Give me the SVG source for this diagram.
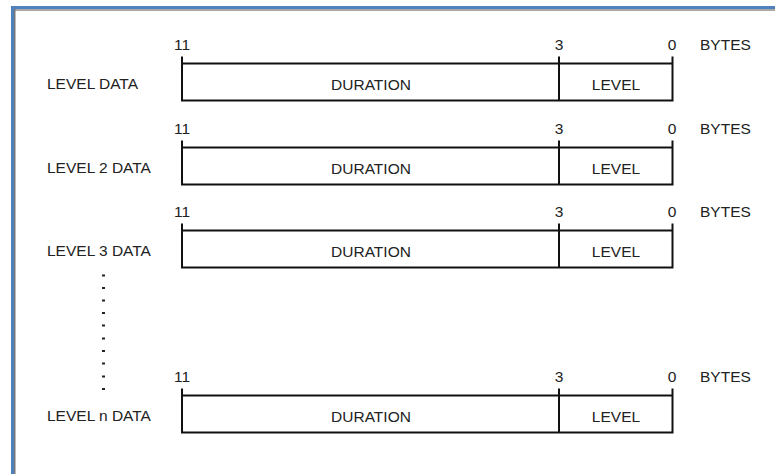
<svg xmlns="http://www.w3.org/2000/svg" width="775" height="474" viewBox="0 0 775 474">
<style>
text{font-family:"Liberation Sans",Arial,sans-serif;font-size:15.5px;fill:#222}
.m{text-anchor:middle}
.b{fill:none;stroke:#111;stroke-width:2}
.d{fill:#222}
</style>
<defs>
<g id="row">
<path class="b" d="M182,-7V37H672.5V-7M182,0H672.5M559,-7V37"/>
<text class="m" x="182" y="-14">11</text>
<text class="m" x="559" y="-14">3</text>
<text class="m" x="672" y="-14">0</text>
<text x="700" y="-14">BYTES</text>
<text class="m" x="371" y="26">DURATION</text>
<text class="m" x="616" y="26">LEVEL</text>
</g>
</defs>
<rect width="775" height="474" fill="#fff"/>
<g id="frame">
<rect x="14" y="9" width="761" height="2" fill="#a8a8a8"/>
<rect x="14" y="9" width="1.5" height="465" fill="#777"/>
<rect x="11" y="6" width="764" height="3" fill="#4f81bd"/>
<rect x="11" y="6" width="3" height="468" fill="#4f81bd"/>
</g>
<g id="connectors"></g>
<g id="row1">
<use href="#row" transform="translate(0,63.5)"/>
<text x="47" y="89">LEVEL DATA</text>
</g>
<g id="row2">
<use href="#row" transform="translate(0,147.5)"/>
<text x="47" y="173">LEVEL 2 DATA</text>
</g>
<g id="row3">
<use href="#row" transform="translate(0,230.5)"/>
<text x="47" y="256">LEVEL 3 DATA</text>
</g>
<g id="dots">
<rect class="d" x="102" y="274.5" width="3" height="2"/>
<rect class="d" x="102" y="287" width="3" height="2"/>
<rect class="d" x="102" y="299.5" width="3" height="2"/>
<rect class="d" x="102" y="312" width="3" height="2"/>
<rect class="d" x="102" y="324.5" width="3" height="2"/>
<rect class="d" x="102" y="337.5" width="3" height="2"/>
<rect class="d" x="102" y="350" width="3" height="2"/>
<rect class="d" x="102" y="362.5" width="3" height="2"/>
<rect class="d" x="102" y="375.5" width="3" height="2"/>
<rect class="d" x="102" y="388" width="3" height="2"/>
</g>
<g id="rown">
<use href="#row" transform="translate(0,395.5)"/>
<text x="47" y="421">LEVEL n DATA</text>
</g>
</svg>
